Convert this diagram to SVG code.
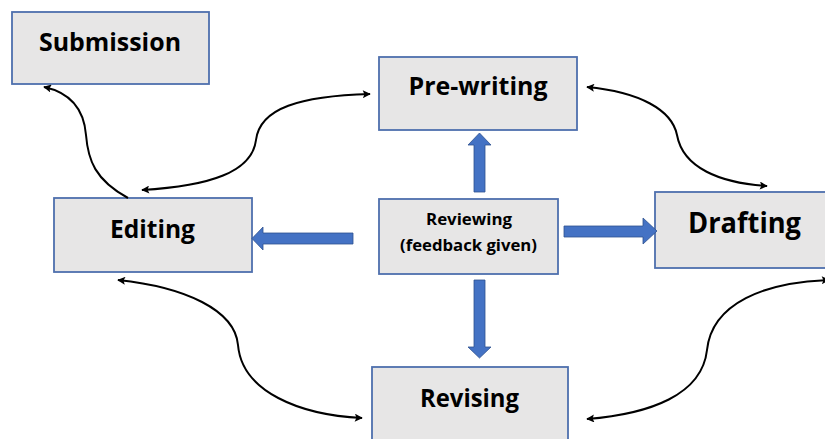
<svg xmlns="http://www.w3.org/2000/svg" width="825" height="439" viewBox="0 0 825 439">
<defs>
<style>
.box{fill:#e7e6e6;stroke:#4e6fad;stroke-width:1.8}
.lbl{font-family:"Open Sans","Noto Sans","Liberation Sans",sans-serif;font-weight:bold;fill:#000;text-anchor:middle}
.blk{fill:#4472c4;stroke:#2f528f;stroke-width:0.8}
.cv{fill:none;stroke:#000;stroke-width:2}
</style>
<marker id="ah" viewBox="0 0 10 10" refX="9" refY="5" markerWidth="9" markerHeight="8" markerUnits="userSpaceOnUse" orient="auto-start-reverse">
<path d="M0,0 L10,5 L0,10 L2,5 Z" fill="#000"/>
</marker>
</defs>
<rect width="825" height="439" fill="#fff"/>
<g id="submission">
<rect class="box" x="12" y="12" width="197" height="72"/>
<text class="lbl" x="110" y="51" font-size="25" textLength="142" lengthAdjust="spacingAndGlyphs">Submission</text>
</g>
<g id="prewriting">
<rect class="box" x="379" y="57" width="198" height="73"/>
<text class="lbl" x="478" y="95" font-size="25" textLength="139" lengthAdjust="spacingAndGlyphs">Pre-writing</text>
</g>
<g id="editing">
<rect class="box" x="54" y="198" width="198" height="74"/>
<text class="lbl" x="152.5" y="238" font-size="25" textLength="85" lengthAdjust="spacingAndGlyphs">Editing</text>
</g>
<g id="reviewing">
<rect class="box" x="379" y="199" width="179" height="75"/>
<text class="lbl" x="469" y="225" font-size="16" textLength="86" lengthAdjust="spacingAndGlyphs">Reviewing</text>
<text class="lbl" x="468.5" y="251" font-size="16" textLength="137" lengthAdjust="spacingAndGlyphs">(feedback given)</text>
</g>
<g id="drafting">
<rect class="box" x="655" y="192" width="180" height="76"/>
<text class="lbl" x="744.5" y="233" font-size="29" textLength="113" lengthAdjust="spacingAndGlyphs">Drafting</text>
</g>
<g id="revising">
<rect class="box" x="372" y="367" width="196" height="80"/>
<text class="lbl" x="469.5" y="407" font-size="25" textLength="99" lengthAdjust="spacingAndGlyphs">Revising</text>
</g>
<g id="connectors">
<polygon class="blk" points="474,192 474,145 468,145 479.5,133 491,145 485,145 485,192"/>
<polygon class="blk" points="474,280 485,280 485,347 491,347 479.5,358 468,347 474,347"/>
<polygon class="blk" points="564,226 643,226 643,218 657,231 643,244 643,237 564,237"/>
<polygon class="blk" points="353,233 263,233 263,227 252,238.5 263,250 263,244 353,244"/>
<path class="cv" d="M128,198 C 95,180 88,160 86,135 C 84,110 72,93 44,87" marker-end="url(#ah)"/>
<path class="cv" d="M142,190 C 210,186 252,172 256,140 C 260,108 300,96 370,94" marker-start="url(#ah)" marker-end="url(#ah)"/>
<path class="cv" d="M587,87 C 640,92 672,110 677,135 C 683,168 720,183 767,186" marker-start="url(#ah)" marker-end="url(#ah)"/>
<path class="cv" d="M118,280 C 185,287 235,310 238,345 C 242,392 300,415 362,418" marker-start="url(#ah)" marker-end="url(#ah)"/>
<path class="cv" d="M587,419 C 650,414 702,395 707,350 C 712,303 765,282 829,280" marker-start="url(#ah)" marker-end="url(#ah)"/>
</g>
</svg>
